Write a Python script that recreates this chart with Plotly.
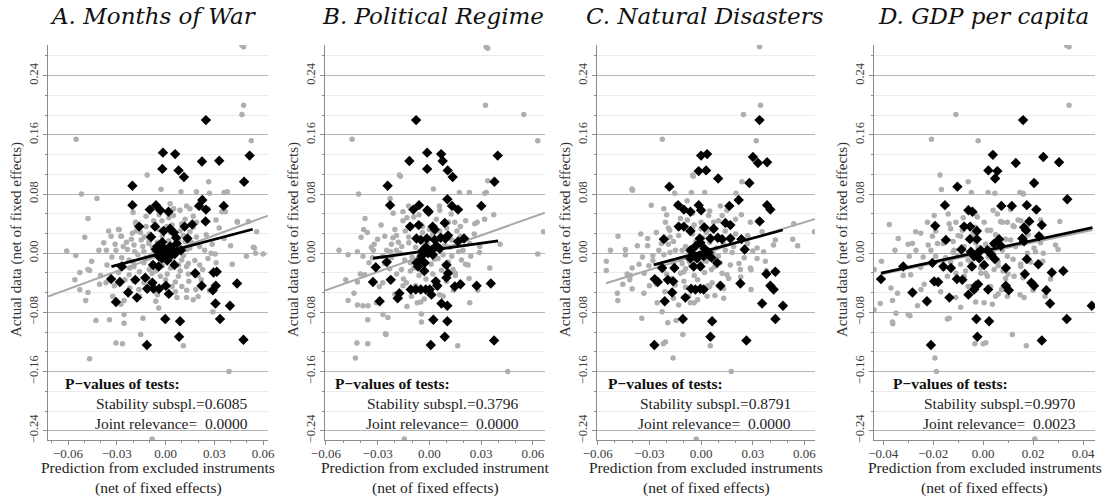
import plotly.graph_objects as go

# ---------------- DATA ----------------
panel_titles = ["A. Months of War", "B. Political Regime", "C. Natural Disasters", "D. GDP per capita"]
x_titles = ["Prediction from excluded instruments", "Prediction from excluded instrument",
            "Prediction from excluded instruments", "Prediction from excluded instruments"]
stability_p = ["0.6085", "0.3796", "0.8791", "0.9970"]
joint_p = ["0.0000", "0.0000", "0.0000", "0.0023"]

y_tick_vals = [-0.24, -0.16, -0.08, 0.0, 0.08, 0.16, 0.24]
y_tick_text = ["\u22120.24", "\u22120.16", "\u22120.08", "0.00", "0.08", "0.16", "0.24"]
x_tick_vals_abc = [-0.06, -0.03, 0.0, 0.03, 0.06]
x_tick_text_abc = ["\u22120.06", "\u22120.03", "0.00", "0.03", "0.06"]
x_tick_vals_d = [-0.04, -0.02, 0.0, 0.02, 0.04]
x_tick_text_d = ["\u22120.04", "\u22120.02", "0.00", "0.02", "0.04"]

# Panel A
a_black = [(0.0248,0.180),(-0.0016,0.136),(0.0059,0.134),(-0.002,0.114),(0.008,0.112),(0.0113,0.103),(0.0224,0.124),(0.033,0.125),(0.0517,0.132),(0.0483,0.0967),(-0.0204,0.0913),
(-0.0204,0.065),(-0.0059,0.065),(-0.0032,0.058),(0.0018,0.056),(-0.0097,0.059),(0.0226,0.072),(0.0206,0.064),(0.0248,0.059),(0.0358,0.064),(0.0246,0.043),(0.0164,0.039),(0.0117,0.036),(-0.0162,0.036),(-0.0065,0.036),(-0.0012,0.030),(0.0028,0.033),(0.0065,0.021),(0.0135,0.020),(-0.0089,0.022),(-0.0051,0.009),(-0.001,0.006),(0.0012,0.0),(-0.0042,-0.004),(-0.0022,-0.007),(0.0057,-0.001),(0.0095,0.004),(0.0069,0.013),(0.0028,0.009),(-0.0077,-0.016),(-0.0042,-0.018),(0.0055,-0.016),(-0.0269,-0.018),(-0.0335,-0.035),(-0.0281,-0.039),(-0.0186,-0.036),(-0.0125,-0.033),(-0.0081,-0.040),(-0.0073,-0.048),(-0.0040,-0.048),(-0.0113,-0.048),(0.0002,-0.044),(0.002,-0.055),(-0.023,-0.053),(-0.0176,-0.060),(-0.0305,-0.066),(0.0182,-0.027),(0.0295,-0.026),(0.0315,-0.025),(0.0222,-0.044),(0.0309,-0.044),(0.0291,-0.050),(0.0307,-0.068),(0.0396,-0.071),(0.044,-0.041),(-0.0002,-0.089),(0.0089,-0.092),(0.0335,-0.089),(0.0083,-0.113),(-0.0115,-0.124),(0.0479,-0.117),
(0.0,0.003),(-0.003,0.002),(0.003,-0.003),(0.004,0.005),(-0.006,0.005),(0.001,-0.010),(-0.002,0.015),(0.005,0.028),(-0.0005,-0.002)]
a_grey = [(0.047,0.281),(0.048,0.279),(0.048,0.200),(0.047,0.1876),(0.0527,0.152),(-0.055,0.154),(-0.0113,0.1057),(0.0265,0.0967),(-0.0517,0.080),(-0.0422,0.074),(-0.0477,0.047),(-0.0497,0.0216),(-0.0028,0.0864),(0.0095,0.083),(0.019,0.083),(0.027,0.081),(0.036,0.082),(0.038,0.083),(0.044,0.043),(0.056,0.029),(0.054,0.008),(0.060,-0.001),
(-0.0527,-0.026),(-0.0467,-0.0235),(-0.0527,-0.0495),(-0.0491,-0.064),(-0.0428,-0.091),(-0.0345,-0.090),(-0.0255,-0.0945),(-0.0139,-0.088),(-0.0305,-0.1215),(-0.0265,-0.1224),(-0.0153,-0.110),(0.0109,-0.125),(-0.0467,-0.1427),(0.039,-0.160),(-0.0083,-0.251),(0.017,-0.063),(0.020,-0.0585),(-0.0042,-0.074),
(-0.0335,0.023),(-0.029,0.032),(-0.0275,0.023),(-0.0204,0.027),(-0.0184,0.040),(-0.0164,0.031),
(-0.0608,0.003),(-0.0552,-0.003),(-0.041,0.004),(-0.0364,0.004),(-0.0455,-0.011),(-0.0477,-0.022),(-0.0558,-0.036),(-0.0477,-0.053),(-0.0406,-0.042),(-0.0366,-0.040),(-0.0255,-0.083),(0.0129,-0.060),(0.0186,-0.049),(0.0291,-0.079),
(0.0497,-0.004),(0.0554,0.0),(0.0547,0.007),(0.0509,0.043),(0.0442,0.042),(0.0368,0.056),(0.0347,0.056),(0.0261,0.060),(0.0129,0.064),(0.0089,0.058),(0.0048,0.051),(0.0287,0.012),(0.0261,-0.007),(0.0305,-0.001),(0.0311,-0.013),(0.0228,-0.022),(0.0143,-0.038),(0.0079,-0.031),(0.019,0.022),(0.021,0.009),(0.0149,0.007),
(-0.0184,0.042),(-0.0154,0.028),(-0.0194,0.011),(-0.0224,-0.009),(-0.0194,-0.018),(-0.0224,-0.029),(-0.0133,-0.013),(-0.0133,0.002),(-0.0103,0.013),(-0.0073,0.044),(-0.0022,0.044),(0.0008,0.036),(0.0028,0.067),(-0.0083,-0.027),(-0.0032,-0.031),(-0.0133,-0.040),(-0.0164,-0.049),(-0.0255,-0.064),(-0.0275,-0.069),(-0.0325,-0.058),(-0.0315,-0.044),(-0.0194,-0.038),(0.0099,-0.009),(0.0129,-0.018),
(-0.0305,0.004),(-0.0234,0.005),(-0.0285,0.032),(-0.0271,0.023),
(-0.005,0.015),(-0.008,0.008),(-0.012,-0.006),(0.004,-0.008),(0.008,0.018),(0.011,-0.003),(-0.002,0.023),(0.003,-0.020),(-0.006,-0.024),(0.006,-0.039),(0.015,0.029),(-0.010,0.026),(-0.015,0.018),(0.009,0.030),(-0.003,-0.012),(0.007,0.002),(-0.009,-0.003),(0.016,0.014),(-0.017,-0.002),(-0.004,0.032),(0.002,0.048),(0.012,0.046),(-0.026,0.009),(-0.020,-0.012),(0.018,-0.010),(0.024,0.004),(0.0,-0.036),(-0.011,-0.035),(-0.005,-0.056),(0.006,-0.052),(0.010,-0.045),(-0.022,-0.047),(-0.036,-0.016),(-0.029,-0.026),(-0.038,0.014),(0.036,0.020),(0.033,0.034),(0.041,-0.015),(-0.007,0.063),(0.017,0.050),
(-0.001,0.010),(0.002,0.017),(-0.004,-0.005),(0.006,0.010),(-0.007,0.001),(0.001,-0.006),(-0.010,0.017),(0.013,0.005),(-0.014,0.009),(0.005,-0.014),(-0.002,-0.017),(0.009,-0.024),(-0.016,-0.025),(0.004,0.038),(-0.012,0.036),(0.011,0.024),(-0.021,0.019),(0.020,-0.030),(-0.025,-0.036),(0.014,-0.014)]
a_grey_core = [(-0.024,0.015),(-0.019,0.002),(-0.013,0.022),(-0.008,-0.014),(-0.006,0.038),(0.003,0.028),(0.008,-0.016),(0.012,0.016),(0.017,0.035),(0.021,-0.016),(-0.027,-0.006),(-0.022,-0.020),(-0.018,0.030),(-0.010,-0.022),(-0.004,0.052),(0.005,0.060),(0.010,0.040),(0.014,-0.028),(0.019,0.042),(0.025,0.025),(-0.033,-0.005),(-0.031,0.012),(-0.028,-0.040),(-0.016,-0.058),(-0.009,-0.045),(0.001,-0.028),(0.007,-0.060),(0.013,-0.050),(0.022,-0.036),(0.028,0.000),(-0.040,-0.030),(-0.035,0.030),(0.031,0.045),(0.040,0.010),(-0.006,-0.065),(0.015,0.060),(-0.020,0.055),(-0.012,0.050),(0.004,-0.045),(0.027,-0.050)]
a_fit_grey = [(-0.0723,-0.0586),(0.063,0.0508)]
a_fit_black = [(-0.0333,-0.018),(0.0536,0.0324)]

# Panel B
b_black = [(-0.0077,0.180),(-0.0116,0.1246),(-0.0013,0.136),(0.0068,0.134),(-0.0013,0.114),(0.0077,0.1246),(0.0106,0.112),(0.0135,0.103),(0.0396,0.132),(0.0377,0.0967),(-0.0242,0.0913),
(-0.0228,0.065),(-0.0060,0.065),(-0.0093,0.059),(-0.0012,0.058),(-0.0004,0.056),(0.0104,0.073),(0.0131,0.064),(0.0166,0.059),(0.0301,0.064),(0.0089,0.041),(-0.0112,0.036),(-0.0062,0.038),(0.0019,0.036),(0.0031,0.032),(-0.0075,0.020),(-0.0015,0.020),(-0.0050,0.018),(0.0031,0.018),(0.0066,0.021),(0.0093,0.020),(0.0108,0.024),(0.0166,0.016),(0.0201,0.020),(-0.0037,0.004),(-0.0008,0.0),(-0.0046,-0.004),(0.0012,0.004),(-0.0066,-0.018),(-0.0075,-0.013),(-0.0027,-0.013),(0.0099,-0.016),(0.0108,-0.027),(0.0099,-0.033),(-0.0311,-0.019),(-0.0247,-0.012),(-0.0327,-0.039),(-0.0224,-0.036),(-0.0174,-0.054),(-0.0184,-0.061),(-0.0288,-0.065),(-0.0108,-0.049),(-0.0079,-0.049),(-0.0050,-0.049),(-0.0021,-0.049),(0.0002,-0.049),(0.0037,-0.038),(0.0046,-0.044),(0.0012,-0.056),(0.0070,-0.068),(0.0104,-0.071),(0.0147,-0.045),(0.0180,-0.042),(0.0274,-0.044),(0.0356,-0.041),(0.0023,-0.090),(0.0104,-0.092),(0.0089,-0.113),(0.0008,-0.124),(0.0375,-0.118),
(-0.002,0.008),(0.002,-0.002),(-0.005,-0.009),(0.004,0.010),(-0.003,-0.024),(0.006,0.006)]
b_grey = [(0.0329,0.279),(0.0338,0.277),(0.0325,0.200),(0.0547,0.1876),(0.0628,0.152),(-0.0448,0.154),(-0.0174,0.1057),(0.0338,0.098),(-0.041,0.080),(-0.0373,0.047),(-0.0396,0.0216),(0.0023,0.0867),(0.0174,0.082),(0.0232,0.082),(0.033,0.082),(0.0661,0.029),(0.0628,-0.001),(0.0454,-0.160),(-0.0145,-0.251),(-0.0429,-0.1417),(-0.042,-0.1215),(-0.0357,-0.1224),(-0.0251,-0.110),(0.0164,-0.125),(-0.0357,-0.090),
(-0.0168,0.104),(0.0321,0.081),(0.0373,0.052),(-0.0228,0.074),(-0.0381,0.032),(-0.0524,0.004),(-0.0471,-0.002),(-0.0417,0.002),(-0.0385,-0.004),(-0.0336,0.008),(-0.0325,0.004),(-0.0485,-0.036),(-0.0417,-0.039),(-0.0437,-0.054),(-0.0471,-0.064),(-0.0375,-0.029),(-0.0307,-0.067),(-0.0356,-0.071),(-0.0417,-0.070),(-0.0385,-0.071),(-0.0269,-0.083),(-0.0240,-0.087),(-0.0255,-0.109),(-0.0046,-0.093),(-0.0046,-0.082),(0.0234,-0.067),(0.0277,0.042),(0.0263,0.040),(0.0350,-0.020),(0.0058,0.064),(0.0126,0.053),(0.0147,0.042),(-0.0120,0.064),(-0.0153,0.056),(-0.0153,0.044),(-0.0191,0.024),(-0.0211,0.021),(-0.0259,0.023),(-0.0247,0.004),(-0.0224,0.002),(-0.0191,0.004),(-0.0143,-0.009),(-0.0162,-0.022),(-0.0133,-0.040),(-0.0153,-0.044),(-0.0104,-0.058),(-0.0070,-0.067),(0.0060,-0.056),(0.0099,-0.038),(0.0137,-0.022),(0.0186,-0.009),(0.0224,-0.016),(0.0269,-0.044),(0.0195,0.004),(0.0234,0.013),(0.0292,0.009),
(-0.008,0.008),(-0.010,-0.005),(0.005,-0.007),(0.009,0.011),(-0.004,0.028),(0.002,0.026),(0.013,-0.004),(-0.012,0.014),(0.007,-0.023),(-0.006,-0.030),(-0.019,-0.028),(-0.026,-0.014),(0.016,0.030),(-0.009,0.049),(0.004,0.046),(-0.029,-0.045),(-0.020,-0.055),(-0.013,-0.072),(-0.003,-0.062),(0.008,-0.002),(0.012,0.008),(-0.016,0.009),(-0.022,-0.006),(0.001,-0.015),(-0.001,0.012),(0.018,0.023),(0.024,-0.004),(-0.030,0.019),(-0.035,-0.013),(-0.005,0.039),(0.010,0.034),(-0.014,0.030),(-0.028,0.038),(0.003,-0.042),(-0.009,-0.020),(0.015,-0.030),
(-0.003,0.015),(0.0,0.021),(-0.006,0.001),(0.004,0.014),(-0.011,-0.013),(0.003,-0.008),(-0.007,-0.017),(0.006,0.030),(-0.018,0.015),(0.011,-0.012),(-0.002,-0.035),(-0.015,-0.035),(0.017,0.002),(0.0,0.032)]
b_grey_core = [(-0.022,0.012),(-0.017,0.0),(-0.012,0.022),(-0.007,-0.012),(-0.004,0.036),(0.004,0.030),(0.009,-0.016),(0.013,0.018),(0.018,0.036),(0.021,-0.015),(-0.027,-0.004),(-0.023,-0.021),(-0.020,0.032),(-0.011,-0.024),(-0.006,0.052),(0.006,0.058),(0.011,0.042),(0.015,-0.027),(0.021,0.044),(0.026,0.026),(-0.033,-0.006),(-0.032,0.012),(-0.027,-0.040),(-0.017,-0.060),(-0.008,-0.044),(0.002,-0.028),(0.008,-0.058),(0.014,-0.050),(0.023,-0.034),(0.029,0.001),(-0.040,-0.028),(-0.036,0.028),(0.032,0.046),(0.041,0.012),(-0.005,-0.066),(0.016,0.060),(-0.021,0.054),(-0.013,0.048),(0.005,-0.046),(0.028,-0.050)]
b_fit_grey = [(-0.0605,-0.0505),(0.067,0.0548)]
b_fit_black = [(-0.0326,-0.0068),(0.0398,0.0166)]

# Panel C
c_black = [(0.0339,0.180),(0.0,0.132),(0.0035,0.134),(0.0301,0.130),(0.0330,0.122),(0.0383,0.123),(-0.0014,0.111),(0.0029,0.112),(0.0099,0.101),(0.0280,0.095),(-0.0184,0.090),(0.0218,0.072),(0.0383,0.065),(0.0402,0.059),(-0.0133,0.065),(-0.0100,0.059),(-0.0062,0.056),(-0.0014,0.065),(0.0,0.058),(0.0164,0.064),(0.0340,0.043),(0.0141,0.041),(0.0170,0.038),(-0.0130,0.036),(-0.0100,0.036),(-0.0062,0.030),(0.0019,0.035),(0.0073,0.033),(0.0097,0.021),(0.0122,0.019),(0.0170,0.020),(-0.0008,0.020),(-0.0004,0.014),(0.0054,0.020),(-0.0216,0.019),(0.0234,0.019),(0.0253,0.005),(-0.0062,0.004),(-0.0043,-0.002),(-0.0023,-0.007),(0.0015,-0.004),(0.0044,0.001),(-0.0062,-0.007),(-0.0004,-0.018),(-0.0043,-0.018),(0.0093,-0.013),(-0.0226,-0.020),(-0.0155,-0.020),(-0.0269,-0.035),(-0.0251,-0.039),(-0.0193,-0.036),(-0.0162,-0.038),(-0.0168,-0.053),(-0.0211,-0.065),(-0.0091,-0.060),(-0.0058,-0.048),(-0.0033,-0.049),(-0.0004,-0.048),(0.0015,-0.049),(0.0112,-0.044),(0.0228,-0.041),(0.0379,-0.028),(0.0431,-0.025),(0.0402,-0.044),(0.0421,-0.049),(0.0354,-0.068),(0.0475,-0.071),(0.0431,-0.089),(-0.0106,-0.089),(0.0064,-0.092),(0.0054,-0.113),(0.0263,-0.118),(-0.0271,-0.124),
(0.002,0.006),(-0.003,0.010),(0.006,-0.006),(-0.001,-0.003)]
c_grey = [(0.0339,0.279),(0.034,0.281),(0.0345,0.200),(0.0246,0.1876),(0.032,0.152),(-0.0225,0.154),(-0.0048,0.1057),(0.0237,0.0967),(-0.0401,0.0868),(-0.0289,0.065),(-0.0482,0.023),(0.0532,0.019),(0.0658,0.029),(-0.055,-0.011),(-0.055,-0.0235),(-0.0486,-0.054),(-0.0483,-0.064),(-0.0344,-0.088),(0.0175,-0.160),(-0.0028,-0.251),(-0.0163,-0.1417),(-0.022,-0.1224),(-0.0106,-0.110),(0.0053,-0.125),(0.029,-0.0225),(0.0378,-0.0235),
(-0.0398,0.085),(-0.0526,0.004),(-0.0439,0.005),(-0.0439,-0.002),(-0.040,-0.020),(-0.0429,-0.028),(-0.0414,-0.036),(-0.0454,-0.042),(-0.040,-0.048),(-0.0332,-0.054),(-0.0303,-0.017),(-0.0207,-0.120),(-0.0193,-0.094),(-0.0145,-0.091),(-0.0226,-0.079),(-0.0255,-0.067),(0.0131,-0.061),(0.0228,-0.042),(-0.0046,0.104),(0.0021,0.082),(-0.0056,0.082),(-0.0153,0.081),(0.0203,0.081),(0.0286,0.042),(0.0234,0.052),(0.0354,0.029),(0.0431,0.018),(0.0560,0.010),(0.0537,0.040),(0.0325,0.007),(0.0363,0.002),(0.0325,-0.007),(0.0373,-0.011),(0.0286,-0.020),(0.0228,-0.022),(-0.0139,0.067),(-0.0081,0.071),(-0.0216,0.060),(-0.0207,0.042),(-0.0182,0.031),(-0.0245,0.004),(-0.0216,-0.002),(-0.0149,0.004),(-0.0110,0.004),(-0.0159,-0.013),(-0.0120,-0.027),(-0.0100,-0.038),(-0.0072,-0.058),(-0.0062,-0.067),(0.0064,-0.040),(0.0035,-0.058),(0.0122,-0.027),(0.0170,-0.016),(0.0141,0.004),(0.0189,0.009),(0.0112,0.064),(0.0122,0.051),(0.0044,0.051),(0.0073,0.042),
(-0.009,0.009),(-0.012,-0.008),(0.003,-0.011),(0.009,0.007),(-0.005,0.026),(0.003,0.028),(0.010,-0.004),(-0.016,0.016),(0.006,-0.022),(-0.004,-0.030),(-0.020,-0.028),(-0.028,-0.010),(0.014,0.030),(-0.008,0.045),(0.0,0.042),(-0.030,-0.044),(-0.021,-0.052),(-0.013,-0.070),(-0.002,-0.063),(0.007,0.0),(0.013,0.012),(-0.018,0.022),(-0.024,-0.016),(0.0,-0.014),(-0.002,0.011),(0.020,0.026),(0.025,-0.006),(-0.031,0.020),(-0.036,-0.015),(-0.004,0.038),(0.016,-0.034),(-0.015,-0.043),(-0.009,-0.021),(0.005,-0.045),(-0.037,0.010),(0.027,0.013),
(-0.003,0.016),(0.001,0.021),(-0.007,0.002),(0.005,0.015),(-0.011,-0.014),(0.003,-0.007),(-0.006,-0.016),(0.007,0.031),(-0.019,0.012),(0.011,-0.013),(-0.002,-0.036),(-0.017,-0.034),(0.018,0.001),(0.0,0.033),(-0.026,0.028),(-0.033,-0.027)]
c_grey_core = [(-0.023,0.013),(-0.018,0.001),(-0.013,0.024),(-0.007,-0.011),(-0.005,0.034),(0.004,0.032),(0.008,-0.018),(0.012,0.020),(0.017,0.038),(0.022,-0.014),(-0.028,-0.003),(-0.022,-0.022),(-0.019,0.034),(-0.010,-0.025),(-0.005,0.054),(0.005,0.057),(0.010,0.044),(0.015,-0.029),(0.020,0.046),(0.027,0.024),(-0.034,-0.005),(-0.031,0.010),(-0.026,-0.042),(-0.016,-0.061),(-0.009,-0.046),(0.002,-0.026),(0.008,-0.057),(0.013,-0.048),(0.023,-0.032),(0.030,0.003),(-0.041,-0.030),(-0.035,0.026),(0.033,0.044),(0.042,0.011),(-0.004,-0.067),(0.015,0.058),(-0.020,0.052),(-0.012,0.047),(0.004,-0.044),(0.029,-0.049)]
c_fit_grey = [(-0.0552,-0.0405),(0.0662,0.0463)]
c_fit_black = [(-0.0275,-0.0158),(0.0474,0.0314)]

# Panel D
d_black = [(0.016,0.180),(0.0039,0.133),(0.0021,0.112),(0.0057,0.111),(0.0048,0.101),(0.0131,0.122),(0.0241,0.130),(0.0304,0.123),(0.0204,0.095),(0.0337,0.073),(-0.0103,0.090),(-0.0153,0.065),(-0.0059,0.058),(-0.0043,0.056),(0.0073,0.064),(0.0115,0.064),(0.0175,0.065),(0.0213,0.059),(0.0185,0.043),(0.0164,0.035),(0.0172,0.031),(0.0235,0.038),(-0.0192,0.037),(-0.0149,0.018),(-0.0076,0.036),(-0.0052,0.036),(-0.0025,0.030),(-0.0053,0.019),(-0.0025,0.019),(-0.0087,0.005),(-0.0049,0.002),(-0.0036,-0.004),(-0.0023,0.0),(-0.0009,0.004),(-0.0016,-0.007),(0.0017,0.004),(0.0033,-0.002),(0.0044,0.013),(0.0064,0.019),(0.0071,0.010),(0.0157,0.020),(0.0164,0.016),(0.0224,0.023),(-0.0045,-0.018),(0.0004,-0.016),(0.0047,-0.008),(0.0091,-0.020),(0.0175,-0.008),(0.0221,-0.015),(0.0167,-0.028),(0.0275,-0.026),(0.0321,-0.024),(-0.0159,-0.018),(-0.0129,-0.020),(-0.032,-0.018),(-0.0203,-0.013),(-0.0409,-0.035),(-0.0196,-0.038),(-0.018,-0.039),(-0.0105,-0.035),(-0.0083,-0.036),(-0.0283,-0.053),(-0.0225,-0.065),(-0.0135,-0.060),(-0.0059,-0.056),(-0.0029,-0.044),(-0.0020,-0.042),(-0.0036,-0.049),(0.0020,-0.049),(0.0091,-0.044),(0.0103,-0.050),(0.0193,-0.040),(0.0204,-0.044),(0.0253,-0.050),(0.0268,-0.068),(0.0435,-0.071),(0.0335,-0.089),(-0.0027,-0.089),(0.0024,-0.092),(-0.0023,-0.113),(0.0235,-0.118),(-0.0209,-0.124)]
d_grey = [(0.0334,0.281),(0.0344,0.279),(0.0344,0.200),(-0.0109,0.1876),(-0.0207,0.154),(-0.002,0.152),(-0.0173,0.1057),(-0.006,0.0967),(-0.0376,0.039),(-0.034,0.020),(0.0307,0.043),(-0.0047,0.082),(0.002,0.082),(0.0147,0.082),(0.016,0.081),
(-0.0407,-0.011),(-0.0437,-0.0765),(-0.0293,-0.0846),(-0.0362,-0.0954),(-0.0136,-0.088),(-0.0033,-0.1224),(0.0,-0.1224),(0.0117,-0.110),(0.0173,-0.125),(-0.0193,-0.1417),(-0.0187,-0.160),(0.0207,-0.251),
(-0.0167,0.086),(0.0047,0.081),(0.0161,0.080),(0.0241,0.0),(0.0239,-0.011),(-0.0283,0.013),(-0.0269,0.004),(-0.0353,0.004),(-0.0296,-0.004),(-0.0436,-0.022),(-0.0369,-0.047),(-0.0363,-0.064),(-0.0343,-0.054),(-0.0412,-0.068),(-0.0363,-0.093),(-0.0349,-0.081),(-0.030,-0.083),(-0.0263,-0.071),(-0.0236,-0.042),(-0.0249,-0.049),(-0.0143,-0.089),(0.0011,-0.121),(-0.0136,0.040),(-0.0109,0.042),(-0.0083,0.031),(-0.0196,0.051),(-0.0223,0.042),(-0.0203,0.023),(-0.0183,0.013),(-0.0209,0.004),(-0.0116,0.004),(-0.0103,-0.004),(-0.0143,-0.031),(-0.0109,-0.027),(-0.0076,-0.031),(-0.0009,-0.027),(0.0017,-0.031),(0.0044,-0.022),(0.0004,-0.067),(0.0037,-0.069),(0.0073,-0.049),(0.0097,-0.058),(0.0124,-0.031),(0.0151,-0.018),(0.0177,0.0),(0.0204,0.007),(0.0097,0.042),(0.0124,0.036),(0.0151,0.044),(0.0057,0.053),(0.0077,0.042),(-0.0023,0.049),(0.0004,0.042),(0.0017,0.031),(-0.0076,0.009),(-0.0049,0.018),(0.0077,0.004),(0.0097,-0.004),(0.0148,-0.056),(0.0164,-0.060),(0.0248,-0.058),
(-0.006,-0.009),(0.003,0.007),(-0.003,0.014),(0.006,-0.012),(-0.012,0.016),(0.011,0.018),(-0.009,-0.015),(0.002,-0.005),(-0.001,-0.020),(0.013,0.009),(-0.015,-0.006),(-0.004,0.026),(0.005,0.025),(0.023,0.014),(-0.025,-0.019),(-0.032,-0.030),(-0.027,0.029),(-0.030,0.012),(0.009,-0.034),(-0.005,-0.045),(0.027,-0.035),(0.030,0.005),(-0.017,-0.052),(-0.009,-0.073),(0.006,-0.055),
(-0.002,0.008),(0.001,0.012),(-0.005,0.003),(0.004,0.001),(-0.008,-0.003),(0.007,0.013),(-0.010,0.024),(0.008,-0.024),(-0.013,-0.012),(0.012,-0.008),(0.019,-0.012),(-0.019,0.030)]
d_grey_core = [(-0.016,0.013),(-0.012,0.001),(-0.009,0.023),(-0.005,-0.012),(-0.003,0.035),(0.003,0.031),(0.006,-0.017),(0.009,0.019),(0.012,0.037),(0.015,-0.015),(-0.019,-0.004),(-0.016,-0.021),(-0.013,0.033),(-0.007,-0.024),(-0.003,0.053),(0.004,0.058),(0.007,0.043),(0.010,-0.028),(0.014,0.045),(0.018,0.025),(-0.024,-0.005),(-0.022,0.011),(-0.019,-0.041),(-0.011,-0.060),(-0.006,-0.045),(0.001,-0.027),(0.005,-0.058),(0.009,-0.049),(0.016,-0.033),(0.021,0.002),(-0.029,-0.029),(-0.025,0.027),(0.023,0.045),(0.029,0.011),(-0.003,-0.066),(0.011,0.059),(-0.014,0.053),(-0.008,0.048),(0.003,-0.045),(0.020,-0.050)]
d_fit_grey = [(-0.0409,-0.0285),(0.0438,0.0315)]
d_fit_black = [(-0.0409,-0.027),(0.0438,0.0346)]

# ---------------- LAYOUT / STYLE ----------------
W, H = 1102, 498
SERIF = "Liberation Serif, Tinos, Times New Roman, Times, serif"
TITLE_FONT = "DejaVu Serif, serif"
GREY_DOT = "#afafaf"
Y_RANGE = [-0.2525, 0.2815]
Y_TOP_PX, Y_BOT_PX = 45, 440

panels = [
    dict(grey=a_grey + a_grey_core, black=a_black, fg=a_fit_grey, fb=a_fit_black, xr=[-0.0723, 0.063],
         tv=x_tick_vals_abc, tt=x_tick_text_abc, left=48, right=268, title_cx=153, pv_left=63, pv_right=250),
    dict(grey=b_grey + b_grey_core, black=b_black, fg=b_fit_grey, fb=b_fit_black, xr=[-0.0605, 0.067],
         tv=x_tick_vals_abc, tt=x_tick_text_abc, left=325, right=545, title_cx=433, pv_left=333, pv_right=521),
    dict(grey=c_grey + c_grey_core, black=c_black, fg=c_fit_grey, fb=c_fit_black, xr=[-0.0604, 0.0661],
         tv=x_tick_vals_abc, tt=x_tick_text_abc, left=597, right=815, title_cx=705, pv_left=606, pv_right=793),
    dict(grey=d_grey + d_grey_core, black=d_black, fg=d_fit_grey, fb=d_fit_black, xr=[-0.0437, 0.0448],
         tv=x_tick_vals_d, tt=x_tick_text_d, left=874, right=1095, title_cx=983, pv_left=891, pv_right=1078),
]

def fx(p):
    return p / W

def fy(p):
    return 1 - p / H

fig = go.Figure()
annotations = []
layout_axes = {}

for i, p in enumerate(panels):
    n = "" if i == 0 else str(i + 1)
    xa, ya = "x" + n, "y" + n
    gx, gy = zip(*p["grey"])
    bx, by = zip(*p["black"])
    fgx, fgy = zip(*p["fg"])
    fbx, fby = zip(*p["fb"])
    fig.add_trace(go.Scatter(x=gx, y=gy, mode="markers", xaxis=xa, yaxis=ya, showlegend=False,
                             marker=dict(symbol="circle", size=5.5, color=GREY_DOT, line=dict(width=0))))
    fig.add_trace(go.Scatter(x=fgx, y=fgy, mode="lines", xaxis=xa, yaxis=ya, showlegend=False,
                             line=dict(color="#a8a8a8", width=2)))
    fig.add_trace(go.Scatter(x=bx, y=by, mode="markers", xaxis=xa, yaxis=ya, showlegend=False,
                             marker=dict(symbol="diamond", size=8, color="#000000", line=dict(width=0))))
    fig.add_trace(go.Scatter(x=fbx, y=fby, mode="lines", xaxis=xa, yaxis=ya, showlegend=False,
                             line=dict(color="#000000", width=2.8)))

    layout_axes["xaxis" + n] = dict(
        domain=[fx(p["left"]), fx(p["right"])], range=p["xr"], anchor=ya, automargin=False,
        tickvals=p["tv"], ticktext=p["tt"], showgrid=False, zeroline=False,
        showline=True, linecolor="#8c8c8c", linewidth=1,
        ticks="outside", ticklen=4, tickcolor="#8c8c8c", ticklabelstandoff=-3,
        tickfont=dict(family=SERIF, size=13, color="#3a3a3a"),
        minor=dict(dtick=0.01, tick0=0, ticks="outside", ticklen=2, tickcolor="#8c8c8c", showgrid=False),
    )
    layout_axes["yaxis" + n] = dict(
        domain=[fy(Y_BOT_PX), fy(Y_TOP_PX)], range=Y_RANGE, anchor=xa, automargin=False,
        tickvals=y_tick_vals, ticktext=y_tick_text, tickangle=-90,
        showgrid=True, gridcolor="#b5b5b5", gridwidth=1, zeroline=False,
        showline=True, linecolor="#8c8c8c", linewidth=1,
        ticks="outside", ticklen=4, tickcolor="#8c8c8c",
        tickfont=dict(family=SERIF, size=12.5, color="#3a3a3a"),
        minor=dict(dtick=0.08 / 3, tick0=0, ticks="outside", ticklen=2, tickcolor="#8c8c8c",
                   showgrid=True, gridcolor="#ececec", gridwidth=1),
    )

    cx = (p["left"] + p["right"]) / 2
    annotations.append(dict(text="<i>" + panel_titles[i] + "</i>", x=fx(p["title_cx"]), y=fy(16),
                            xref="paper", yref="paper", xanchor="center", yanchor="middle", showarrow=False,
                            font=dict(family=TITLE_FONT, size=23, color="#111111")))
    annotations.append(dict(text="Actual data (net of fixed effects)", x=fx(p["left"] - 32), y=fy(240),
                            xref="paper", yref="paper", xanchor="center", yanchor="middle", showarrow=False,
                            textangle=-90, font=dict(family=SERIF, size=15, color="#333333")))
    annotations.append(dict(text=x_titles[i], x=fx(cx), y=fy(467), xref="paper", yref="paper",
                            xanchor="center", yanchor="middle", showarrow=False,
                            font=dict(family=SERIF, size=15.5, color="#222222")))
    annotations.append(dict(text="(net of fixed effects)", x=fx(cx), y=fy(488), xref="paper", yref="paper",
                            xanchor="center", yanchor="middle", showarrow=False,
                            font=dict(family=SERIF, size=15.5, color="#222222")))
    annotations.append(dict(text="<b>P\u2212values of tests:</b>", x=fx(p["pv_left"]), y=fy(383),
                            xref="paper", yref="paper", xanchor="left", yanchor="middle", showarrow=False,
                            font=dict(family=SERIF, size=15.5, color="#111111")))
    annotations.append(dict(text="Stability subspl.=" + stability_p[i], x=fx(p["pv_right"]), y=fy(403),
                            xref="paper", yref="paper", xanchor="right", yanchor="middle", showarrow=False,
                            font=dict(family=SERIF, size=15.5, color="#222222")))
    annotations.append(dict(text="Joint relevance=\u00a0 " + joint_p[i], x=fx(p["pv_right"]), y=fy(423),
                            xref="paper", yref="paper", xanchor="right", yanchor="middle", showarrow=False,
                            font=dict(family=SERIF, size=15.5, color="#222222")))

fig.update_layout(
    template="none",
    width=W, height=H, autosize=False,
    margin=dict(l=0, r=0, t=0, b=0, pad=0),
    paper_bgcolor="white", plot_bgcolor="white",
    showlegend=False,
    annotations=annotations,
    **layout_axes,
)

fig.write_html("out.html", config={"displayModeBar": False},
               post_script="document.body.style.margin='0';document.body.style.overflow='hidden';")
